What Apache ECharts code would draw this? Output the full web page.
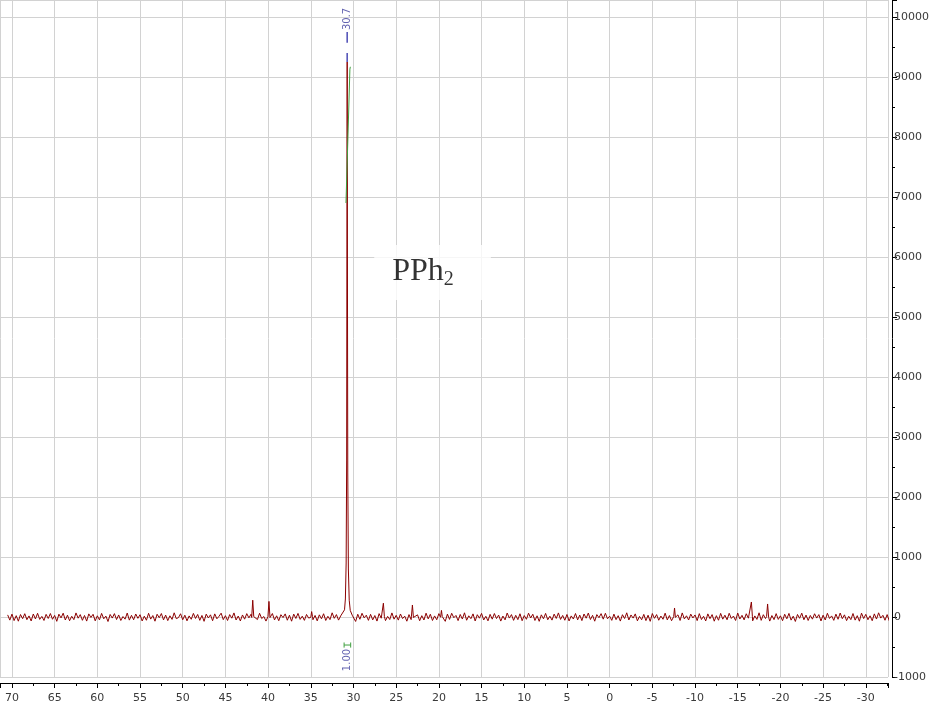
<!DOCTYPE html>
<html><head><meta charset="utf-8">
<script src="https://cdn.jsdelivr.net/npm/echarts@6/dist/echarts.min.js"></script>
<style>html,body{margin:0;padding:0;background:#fff}#c{width:933px;height:709px}</style>
</head><body><div id="c"></div>
<script>
// ---- axis windows ----
const xMin = -32.6, xMax = 71.4;      // ppm (axis drawn reversed)
const yMin = -1000, yMax = 10283;     // intensity

// ---- baseline noise, sampled every noiseStep ppm from noiseStart ----
const noiseStart = 70.5, noiseStep = 0.25;
const noise = [
 35,-52,48,-60,22,-70,41,-28,55,-45,18,-66,50,-33,62,-40,10,-58,44,-25,
 58,-38,26,-72,47,-15,64,-50,30,-62,12,-44,68,-20,40,-55,25,-68,52,-8,
 45,-64,20,-48,60,-30,15,-75,42,-18,56,-42,34,-58,8,-36,66,-52,28,-46,
 50,-22,38,-66,14,-54,62,-35,24,-70,46,-12,58,-48,32,-60,20,-40,70,-28,
 -10,54,-46,30,-64,18,-38,60,-24,42,-56,26,-72,48,-16,36,-62,52,-30,12,
 64,-44,22,-58,40,-20,68,-50,16,-66,34,-36,56,-14,46,-60,28,-42,62,-26,
 8,-68,44,-32,58,-48,20,-62,38,-10,52,-54,30,-70,48,-24,60,-40,14,-56,
 42,-18,66,-46,26,-64,36,-30,54,-58,12,-44,70,-22,40,-52,18,-66,50,-34,
 60,-28,16,-74,46,-38,62,-14,30,-56,44,-48,24,-68,56,-20,34,-60,10,-42,
 68,-36,28,-52,50,-26,14,-70,40,-44,58,-16,36,-62,22,-50,64,-32,46,-58,
 18,-46,56,-24,34,-72,48,-40,62,-12,26,-60,42,-34,70,-54,20,-28,52,-66,
 38,-20,60,-50,12,-64,44,-36,58,-26,32,-68,16,-48,66,-18,40,-56,28,-44,
 54,-62,24,-38,64,-16,46,-58,20,-72,36,-30,60,-46,14,-52,48,-24,68,-40,
 26,-54,42,-66,18,-34,58,-48,32,-60,50,-20,66,-42,28,-70,40,-12,56,-36,
 62,-30,14,-56,48,-44,22,-68,38,-26,70,-50,34,-18,52,-64,10,-46,44,-60,
 30,-72,58,-22,40,-54,16,-38,64,-48,24,-62,46,-14,36,-58,68,-32,20,-50,
 48,-16,34,-60,56,-42,12,-66,52,-28,40,-70,22,-54,60,-36,30,-46,62,-24,
 16,-58,66,-34,28,-48,54,-20,44,-64,18,-40,70,-56,38,-26,50,-68,24,-44,
 56,-40,20,-62,46,-30,60,-52,14,-74,42,-22,64,-46,32,-58,26,-36,54,-18,
 40,-66,30,-50,62,-24,18,-56,48,-38,66,-28,36,-60,12,-44,58,-52,22,-70,
 64,-26,44,-46,20,-62,52,-34,70,-18,28,-54,40,-64,16,-32,60,-48,36,-56
];

// ---- main PPh2 resonance (ppm, intensity) ----
const mainPeak = [[31.3,40],[31.05,120],[30.95,300],[30.86,900],[30.8,2600],[30.77,6200],
  [30.74,9250],[30.71,6000],[30.67,2400],[30.6,800],[30.5,280],[30.38,110],[30.15,30]];

// ---- small impurity peaks ----
const smallPeaks = [
 [[41.92,-8],[41.8,280],[41.68,6]],
 [[40.02,4],[39.9,260],[39.78,-10]],
 [[35.0,-5],[34.9,90],[34.8,8]],
 [[26.62,-6],[26.5,230],[26.38,5]],
 [[23.22,3],[23.1,200],[22.98,-8]],
 [[19.8,-4],[19.7,110],[19.6,6]],
 [[-7.5,5],[-7.6,150],[-7.7,-6]],
 [[-16.48,-6],[-16.6,250],[-16.72,4]],
 [[-18.38,8],[-18.5,217],[-18.62,-5]]
];

// ---- integral trace and bracket ----
const integralCurve = [[30.88,6900],[30.64,8050],[30.42,9130],[30.37,9170]];
const integralBracket = [[31.1,-425],[31.1,-510],[31.1,null],[31.1,-467],[30.33,-467],[30.33,null],[30.33,-425],[30.33,-510]];
const integralLabel = {ppm:30.72, y:-717, text:'1.00'};

// ---- peak pick marker ----
const pickMarker = [[30.74,9250],[30.74,9400],[30.74,null],[30.74,9570],[30.74,9750]];
const pickLabel = {ppm:30.74, y:9967, text:'30.7'};

// ---- compound annotation ----
const compoundLabel = {ppm:20.74, y:5742, main:'PPh', sub:'2'};

// build spectrum
const peakGroups = [mainPeak].concat(smallPeaks);
let spectrum = [];
noise.forEach((v,i)=>{
  const p = +(noiseStart - i*noiseStep).toFixed(3);
  const inside = peakGroups.some(g=>{
    const lo = Math.min(g[0][0], g[g.length-1][0]), hi = Math.max(g[0][0], g[g.length-1][0]);
    return p >= lo && p <= hi;
  });
  if(!inside) spectrum.push([p, v]);
});
peakGroups.forEach(g=>g.forEach(pt=>spectrum.push(pt)));
spectrum.sort((a,b)=>b[0]-a[0]);

const chart = echarts.init(document.getElementById('c'), null, {renderer:'canvas'});
const gridColor = '#d2d2d2';
const labFont = {color:'#3a3a3a', fontSize:11, fontFamily:'DejaVu Sans'};
chart.setOption({
  animation:false,
  backgroundColor:'#fff',
  grid:{left:0, right:45, top:0, bottom:32, containLabel:false},
  xAxis:{
    type:'value', inverse:true, min:xMin, max:xMax,
    minInterval:5, maxInterval:5, splitNumber:20,
    position:'bottom', offset:6,
    axisLine:{show:true, onZero:false, lineStyle:{color:'#000', width:1}},
    axisTick:{show:true, inside:false, length:5, lineStyle:{color:'#000'}},
    minorTick:{show:true, splitNumber:2, length:3, lineStyle:{color:'#000'}},
    axisLabel:Object.assign({margin:10, showMinLabel:false, showMaxLabel:false, formatter:v=>String(v)}, labFont),
    splitLine:{show:true, lineStyle:{color:gridColor, width:1}},
    minorSplitLine:{show:false}
  },
  yAxis:{
    type:'value', min:yMin, max:yMax, minInterval:1000, maxInterval:1000,
    position:'right', offset:4,
    axisLine:{show:true, onZero:false, lineStyle:{color:'#000', width:1}},
    axisTick:{show:true, inside:false, length:5, lineStyle:{color:'#000'}},
    minorTick:{show:true, splitNumber:2, length:3, lineStyle:{color:'#000'}},
    axisLabel:Object.assign({margin:2, showMaxLabel:false, formatter:v=>String(v)}, labFont),
    splitLine:{show:true, lineStyle:{color:gridColor, width:1}}
  },
  series:[
    {type:'line', data:spectrum, showSymbol:false, symbol:'none',
     lineStyle:{color:'#8b0000', width:1}, z:2, silent:true},
    {type:'line', data:integralCurve, showSymbol:false, symbol:'none',
     lineStyle:{color:'#3f9f3f', width:1}, z:3, silent:true},
    {type:'line', data:integralBracket, showSymbol:false, symbol:'none', connectNulls:false,
     lineStyle:{color:'#3f9f3f', width:1}, z:3, silent:true},
    {type:'line', data:pickMarker, showSymbol:false, symbol:'none', connectNulls:false,
     lineStyle:{color:'#4b4bb5', width:1.5}, z:3, silent:true},
    {type:'scatter', symbolSize:0, z:4, silent:true,
     data:[[pickLabel.ppm,pickLabel.y,pickLabel.text],[integralLabel.ppm,integralLabel.y,integralLabel.text]],
     label:{show:true, position:'inside', rotate:90, formatter:p=>p.data[2],
       color:'#3c3c9c', fontSize:10, fontFamily:'DejaVu Sans'}},
    {type:'scatter', symbolSize:0, z:5, silent:true,
     data:[[compoundLabel.ppm, compoundLabel.y]],
     label:{show:true, position:'inside', color:'#000', formatter:'{a|'+compoundLabel.main+'}{b|'+compoundLabel.sub+'}',
       backgroundColor:'#fff', padding:[9,37,10,18],
       rich:{a:{fontFamily:'Liberation Serif', fontSize:32, color:'#000', lineHeight:36},
             b:{fontFamily:'Liberation Serif', fontSize:20, color:'#000', lineHeight:20, verticalAlign:'bottom'}}}}
  ]
});
</script></body></html>
